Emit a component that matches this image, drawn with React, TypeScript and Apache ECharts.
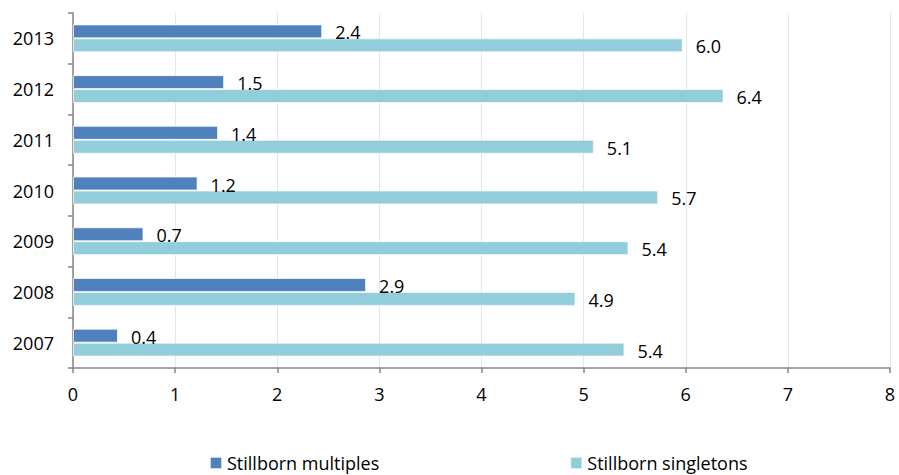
import React, { useEffect, useRef } from "react";
import * as echarts from "echarts";

const categories = ["2007", "2008", "2009", "2010", "2011", "2012", "2013"];
const multiples = [0.44, 2.87, 0.69, 1.22, 1.42, 1.48, 2.44];
const singletons = [5.4, 4.92, 5.44, 5.73, 5.1, 6.37, 5.97];
const xTicks = [0, 1, 2, 3, 4, 5, 6, 7, 8];
const seriesNames = ["Stillborn multiples", "Stillborn singletons"];

const FONT = "'Open Sans', sans-serif";
const FS = 18;

export default function App() {
  const ref = useRef<HTMLDivElement>(null);
  useEffect(() => {
    if (!ref.current) return;
    const chart = echarts.init(ref.current, null, { renderer: "svg" });
    const labelCfg = {
      show: true,
      position: "right",
      distance: 13,
      offset: [0, 1],
      color: "#000",
      fontFamily: FONT,
      fontSize: FS,
      formatter: (p: any) => Number(p.value).toFixed(1),
    };
    chart.setOption({
      animation: false,
      backgroundColor: "#fff",
      textStyle: { fontFamily: FONT },
      grid: { left: 73, top: 13, right: 9, bottom: 107, containLabel: false },
      legend: {
        data: seriesNames,
        left: 209,
        top: 454,
        padding: 0,
        itemWidth: 12,
        itemHeight: 12,
        itemGap: 190,
        icon: "rect",
        textStyle: { fontFamily: FONT, fontSize: FS, color: "#000" },
      },
      xAxis: {
        type: "value",
        min: xTicks[0],
        max: xTicks[xTicks.length - 1],
        interval: 1,
        axisLine: { show: true, lineStyle: { color: "#868686", width: 1.5 } },
        axisTick: { show: true, length: 5, lineStyle: { color: "#868686", width: 1.5 } },
        splitLine: { show: true, lineStyle: { color: "#e6e6e6", width: 1 } },
        axisLabel: { color: "#000", fontFamily: FONT, fontSize: FS, margin: 17 },
      },
      yAxis: {
        type: "category",
        data: categories,
        axisLine: { show: true, lineStyle: { color: "#868686", width: 1.5 } },
        axisTick: { show: true, length: 5, lineStyle: { color: "#868686", width: 1.5 } },
        axisLabel: { color: "#000", fontFamily: FONT, fontSize: FS, margin: 19 },
        splitLine: { show: false },
      },
      series: [
        {
          name: seriesNames[0],
          type: "bar",
          data: multiples,
          barGap: "0%",
          barCategoryGap: "45%",
          itemStyle: { color: "#4F81BD", borderColor: "rgba(255,255,255,0.7)", borderWidth: 1 },
          label: labelCfg,
        },
        {
          name: seriesNames[1],
          type: "bar",
          data: singletons,
          barGap: "0%",
          barCategoryGap: "45%",
          itemStyle: { color: "#92CDDC", borderColor: "rgba(255,255,255,0.7)", borderWidth: 1 },
          label: labelCfg,
        },
      ],
    });
    return () => chart.dispose();
  }, []);
  return <div ref={ref} style={{ width: 899, height: 475, position: "absolute", left: 0, top: 0 }} />;
}
